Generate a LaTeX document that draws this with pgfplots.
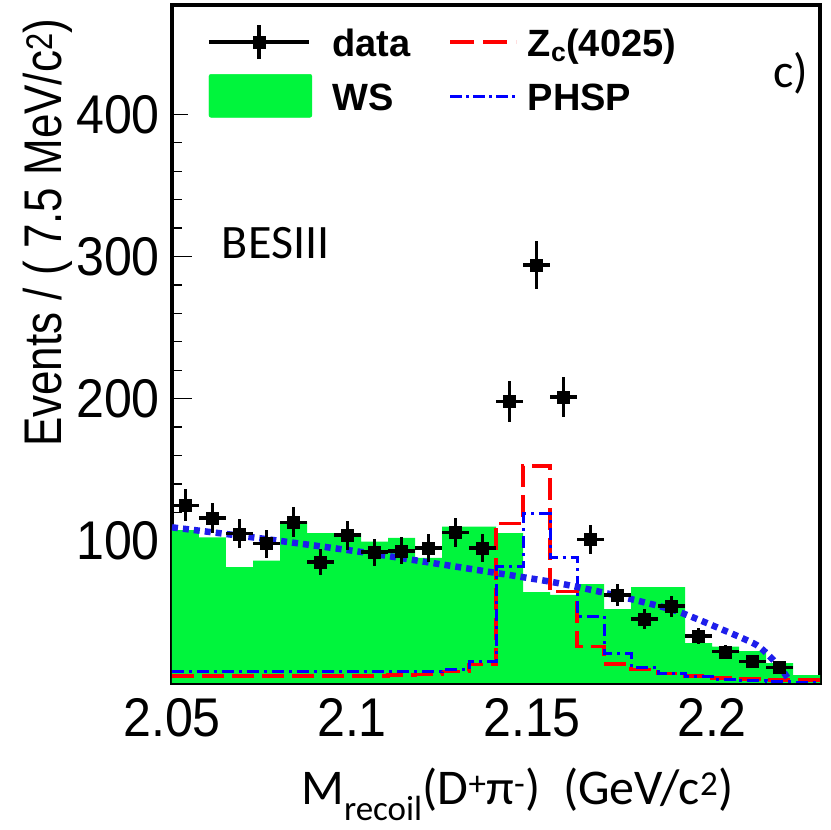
\documentclass[border=0pt]{standalone}
\usepackage{pgfplots}
\pgfplotsset{compat=1.18}
\usepackage{fontspec}
\setmainfont{Liberation Sans}
\newfontfamily\carlito{Carlito}
\definecolor{wsgreen}{RGB}{0,245,60}
\definecolor{dotblue}{RGB}{30,30,235}
\newcommand{\tickfont}{\fontsize{54.5}{60}\selectfont}
\newcommand{\tl}[1]{\scalebox{0.92}[1]{#1}}
\begin{document}
\begin{tikzpicture}
\useasboundingbox (0,0) rectangle (831pt,830pt);
\begin{axis}[
  at={(172pt,147pt)}, anchor=south west,
  scale only axis, width=648pt, height=678pt,
  xmin=2.05, xmax=2.23, ymin=0, ymax=476.9,
  axis line style={line width=3.5pt},
  tick pos=left, tick align=inside,
  tick style={black, line width=1.3pt},
  major tick length=20pt, minor tick length=10pt,
  xtick={2.05,2.1,2.15,2.2},
  xticklabels={\tl{2.05},\tl{2.1},\tl{2.15},\tl{2.2}},
  minor x tick num=4,
  ytick={100,200,300,400},
  yticklabels={\tl{100},\tl{200},\tl{300},\tl{400}},
  minor y tick num=4,
  xticklabel style={font=\tickfont, inner sep=0pt, yshift=-15pt},
  yticklabel style={font=\tickfont, inner sep=0pt, xshift=-12pt},
  xlabel={\carlito\fontsize{50}{60}\selectfont M\textsubscript{recoil}(D\textsuperscript{+}π\textsuperscript{-})~~(GeV/c\textsuperscript{2})},
  xlabel style={at={(rel axis cs:0.533,0)}, anchor=base, yshift=-122pt, inner sep=0pt},
  ylabel={\fontsize{53}{60}\selectfont\scalebox{0.83}[1]{Events / ( 7.5 MeV/c\textsuperscript{2})}},
  ylabel style={at={(rel axis cs:-0.1698,0.348)}, anchor=base west, inner sep=0pt},
  legend columns=2,
  legend style={at={(rel axis cs:0.0247,0.985)}, anchor=north west, draw=none, fill=white,
    font=\fontsize{38}{44}\selectfont\bfseries,
    inner xsep=19pt, inner ysep=8pt,
    nodes={inner sep=0pt, text height=30pt, text depth=9pt, anchor=base west},
    /tikz/column 1/.style={column sep=20pt},
    /tikz/column 2/.style={column sep=38pt},
    /tikz/column 3/.style={column sep=10pt},
    /tikz/row sep=9pt},
  legend cell align=left,
]
\addlegendimage{legend image code/.code={
  \draw[black,line width=3.5pt] (0pt,14pt)--(100pt,14pt);
  \draw[black,line width=3.5pt] (50pt,-3pt)--(50pt,31pt);
  \fill[black] (44pt,8pt) rectangle (56pt,20pt);}}
\addlegendentry{data}
\addlegendimage{legend image code/.code={
  \draw[red,line width=3.5pt,dash pattern=on 24pt off 9pt] (0pt,14pt)--(66pt,14pt);}}
\addlegendentry{Z\textsubscript{c}(4025)}
\addlegendimage{legend image code/.code={
  \fill[wsgreen,rounded corners=2pt] (0pt,-7pt) rectangle (103pt,36pt);}}
\addlegendentry{WS}
\addlegendimage{legend image code/.code={
  \draw[blue,line width=3pt,dash pattern=on 12pt off 4pt on 3pt off 4pt] (0pt,14pt)--(66pt,14pt);}}
\addlegendentry{PHSP}

% WS (filled histogram)
\addplot[fill=wsgreen, draw=none, const plot mark left, forget plot] coordinates {
(2.05,107.5) (2.0575,102.5) (2.065,81.5) (2.0725,86) (2.08,113.5) (2.0875,105.5)
(2.095,105.5) (2.1025,99.5) (2.11,102) (2.1175,88) (2.125,110) (2.1325,110)
(2.14,105.5) (2.1475,64) (2.155,62) (2.1625,69.5) (2.17,52) (2.1775,67.5)
(2.185,67.5) (2.1925,28) (2.2,25.5) (2.2075,22.5) (2.215,14) (2.2225,5.5) (2.23,5.5)
} \closedcycle;

% Zc(4025)
\addplot[red, line width=3.5pt, dash pattern=on 22pt off 8pt, const plot mark left, forget plot] coordinates {
(2.05,5) (2.0575,5) (2.065,5) (2.0725,5) (2.08,5) (2.0875,5)
(2.095,5) (2.1025,5) (2.11,5.5) (2.1175,6) (2.125,8) (2.1325,13)
(2.14,112.3) (2.1475,152.6) (2.155,64.2) (2.1625,25.5) (2.17,13.3) (2.1775,9.6)
(2.185,6.8) (2.1925,5) (2.2,3.6) (2.2075,2.8) (2.215,2.2) (2.2225,2) (2.23,2)
};

% PHSP histogram
\addplot[blue, line width=3pt, dash pattern=on 12pt off 5pt on 3pt off 5pt, const plot mark left, forget plot] coordinates {
(2.05,8) (2.0575,8) (2.065,8) (2.0725,8) (2.08,8) (2.0875,8)
(2.095,8) (2.1025,8) (2.11,8) (2.1175,8) (2.125,9.5) (2.1325,15)
(2.14,81.8) (2.1475,118.9) (2.155,88.1) (2.1625,47.1) (2.17,20.9) (2.1775,11)
(2.185,7) (2.1925,4.5) (2.2,2.5) (2.2075,1.5) (2.215,0.8) (2.2225,0.3) (2.23,0.3)
};

% smooth PHSP curve
\addplot[dotblue, line width=6.5pt, dash pattern=on 6pt off 5pt, smooth, tension=0.4, forget plot] coordinates {
(2.05,109.5) (2.0744,101.8) (2.1022,92.3) (2.1244,83.6) (2.13,81.4) (2.155,71.3)
(2.1707,63.1) (2.1893,51.3) (2.2031,37.3) (2.2124,26.7) (2.2170,16.2) (2.2195,9) (2.2217,1)
};

% data
\addplot[black, only marks, mark=square*, mark size=6pt, forget plot,
  error bars/.cd, x dir=both, x explicit, y dir=both, y explicit,
  error bar style={line width=3.5pt}, error mark=none]
coordinates {
(2.05375,125) +- (0.00375,11.2)
(2.06125,116) +- (0.00375,10.8)
(2.06875,105) +- (0.00375,10.2)
(2.07625,98) +- (0.00375,9.9)
(2.08375,113) +- (0.00375,10.6)
(2.09125,85) +- (0.00375,9.2)
(2.09875,104) +- (0.00375,10.2)
(2.10625,92) +- (0.00375,9.6)
(2.11375,93) +- (0.00375,9.6)
(2.12125,95) +- (0.00375,9.7)
(2.12875,106) +- (0.00375,10.3)
(2.13625,95) +- (0.00375,9.7)
(2.14375,198) +- (0.00375,14.1)
(2.15125,294) +- (0.00375,17.1)
(2.15875,201) +- (0.00375,14.2)
(2.16625,101) +- (0.00375,10.0)
(2.17375,62) +- (0.00375,7.9)
(2.18125,45) +- (0.00375,6.7)
(2.18875,54) +- (0.00375,7.3)
(2.19625,33) +- (0.00375,5.7)
(2.20375,22) +- (0.00375,4.7)
(2.21125,15) +- (0.00375,3.9)
(2.21875,11) +- (0.00375,3.3)
};

\node[font=\carlito\fontsize{48}{56}\selectfont, inner sep=0pt] at (rel axis cs:0.16,0.649) {BESIII};
\node[font=\carlito\fontsize{48}{56}\selectfont, inner sep=0pt] at (rel axis cs:0.955,0.9) {c)};
\end{axis}
\end{tikzpicture}
\end{document}
